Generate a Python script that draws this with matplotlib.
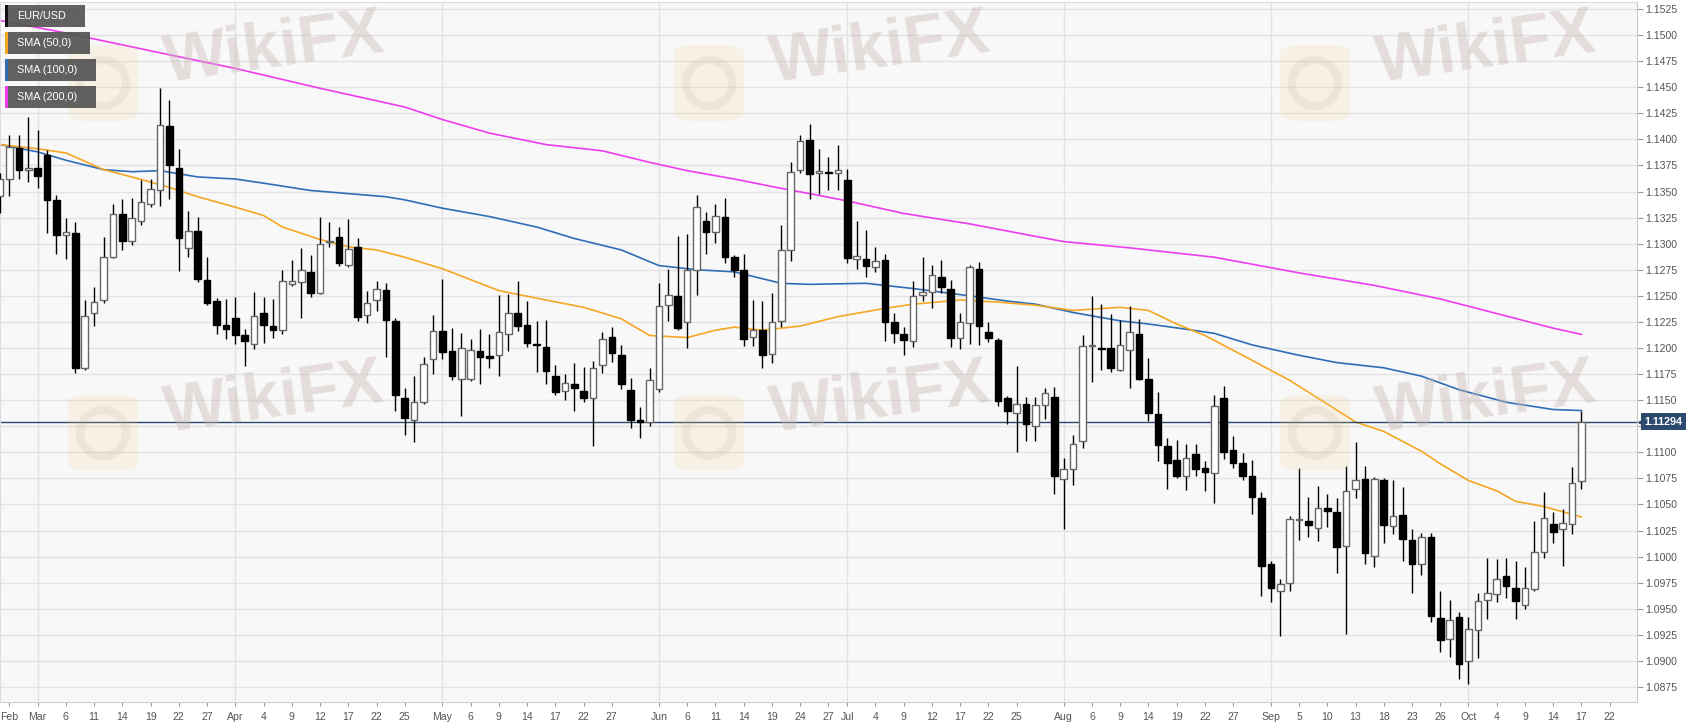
import numpy as np
import pandas as pd
import matplotlib
matplotlib.use('Agg')
import matplotlib.pyplot as plt
from matplotlib.patches import Rectangle, FancyBboxPatch, Ellipse
from matplotlib.transforms import blended_transform_factory

plt.rcParams['font.family'] = ['Liberation Sans', 'DejaVu Sans']

# ---------------- data (EUR/USD daily, 2019-02-25 .. 2019-10-17) ----------------
start_day = '2019-02-25'
opens = [1.1346, 1.1362, 1.1392, 1.1371, 1.1373, 1.1385, 1.1342, 1.1308, 1.1310, 1.1181,
         1.1234, 1.1246, 1.1287, 1.1328, 1.1303, 1.1322, 1.1338, 1.1351, 1.1413, 1.1373,
         1.1296, 1.1312, 1.1265, 1.1245, 1.1222, 1.1229, 1.1212, 1.1204, 1.1234, 1.1221,
         1.1217, 1.1261, 1.1263, 1.1273, 1.1253, 1.1302, 1.1306, 1.1280, 1.1297, 1.1232,
         1.1246, 1.1256, 1.1226, 1.1152, 1.1131, 1.1148, 1.1189, 1.1216, 1.1197, 1.1170,
         1.1170, 1.1197, 1.1192, 1.1193, 1.1213, 1.1234, 1.1222, 1.1204, 1.1201, 1.1173,
         1.1159, 1.1165, 1.1159, 1.1152, 1.1184, 1.1211, 1.1193, 1.1160, 1.1131, 1.1129,
         1.1161, 1.1241, 1.1250, 1.1225, 1.1275, 1.1322, 1.1311, 1.1326, 1.1287, 1.1275,
         1.1211, 1.1217, 1.1194, 1.1226, 1.1294, 1.1371, 1.1399, 1.1368, 1.1369, 1.1368,
         1.1361, 1.1285, 1.1285, 1.1278, 1.1284, 1.1225, 1.1213, 1.1207, 1.1251, 1.1254,
         1.1268, 1.1257, 1.1210, 1.1224, 1.1276, 1.1215, 1.1208, 1.1152, 1.1138, 1.1146,
         1.1125, 1.1145, 1.1153, 1.1074, 1.1084, 1.1111, 1.1202, 1.1200, 1.1200, 1.1179,
         1.1198, 1.1213, 1.1170, 1.1137, 1.1106, 1.1093, 1.1077, 1.1098, 1.1085, 1.1080,
         1.1152, 1.1102, 1.1090, 1.1077, 1.1056, 1.0993, 1.0967, 1.0975, 1.1035, 1.1034,
         1.1027, 1.1047, 1.1043, 1.1010, 1.1065, 1.1074, 1.1001, 1.1073, 1.1029, 1.1040,
         1.1016, 1.0993, 1.1019, 1.0941, 1.0921, 1.0942, 1.0900, 1.0930, 1.0958, 1.0964,
         1.0981, 1.0970, 1.0954, 1.0969, 1.1004, 1.1031, 1.1026, 1.1031, 1.1072]
highs = [1.1368, 1.1404, 1.1404, 1.1421, 1.1409, 1.1390, 1.1347, 1.1325, 1.1321, 1.1246,
         1.1258, 1.1306, 1.1338, 1.1343, 1.1344, 1.1361, 1.1362, 1.1449, 1.1438, 1.1391,
         1.1331, 1.1326, 1.1287, 1.1248, 1.1247, 1.1249, 1.1218, 1.1254, 1.1249, 1.1247,
         1.1275, 1.1284, 1.1296, 1.1289, 1.1326, 1.1321, 1.1316, 1.1324, 1.1305, 1.1255,
         1.1264, 1.1262, 1.1229, 1.1162, 1.1173, 1.1191, 1.1232, 1.1266, 1.1219, 1.1214,
         1.1209, 1.1218, 1.1213, 1.1251, 1.1252, 1.1264, 1.1245, 1.1226, 1.1227, 1.1184,
         1.1175, 1.1186, 1.1182, 1.1188, 1.1215, 1.1220, 1.1203, 1.1171, 1.1143, 1.1181,
         1.1262, 1.1276, 1.1307, 1.1309, 1.1347, 1.1330, 1.1338, 1.1344, 1.1289, 1.1290,
         1.1246, 1.1245, 1.1253, 1.1318, 1.1378, 1.1404, 1.1415, 1.1391, 1.1383, 1.1395,
         1.1372, 1.1322, 1.1313, 1.1297, 1.1290, 1.1234, 1.1220, 1.1264, 1.1287, 1.1280,
         1.1284, 1.1265, 1.1234, 1.1280, 1.1282, 1.1225, 1.1210, 1.1154, 1.1183, 1.1153,
         1.1153, 1.1162, 1.1163, 1.1095, 1.1117, 1.1212, 1.1250, 1.1242, 1.1233, 1.1227,
         1.1240, 1.1228, 1.1190, 1.1158, 1.1114, 1.1112, 1.1108, 1.1108, 1.1092, 1.1155,
         1.1164, 1.1116, 1.1099, 1.1093, 1.1062, 1.0996, 1.0979, 1.1039, 1.1085, 1.1057,
         1.1068, 1.1060, 1.1056, 1.1087, 1.1110, 1.1087, 1.1076, 1.1075, 1.1073, 1.1067,
         1.1026, 1.1023, 1.1023, 1.0967, 1.0958, 1.0947, 1.0942, 1.0965, 1.0999, 1.0998,
         1.0999, 1.0996, 1.0990, 1.1034, 1.1062, 1.1043, 1.1046, 1.1086, 1.1140]
lows = [1.1329, 1.1346, 1.1362, 1.1359, 1.1353, 1.1310, 1.1290, 1.1285, 1.1176, 1.1179,
        1.1221, 1.1243, 1.1286, 1.1294, 1.1299, 1.1318, 1.1335, 1.1336, 1.1343, 1.1274,
        1.1287, 1.1263, 1.1241, 1.1213, 1.1209, 1.1204, 1.1183, 1.1199, 1.1205, 1.1210,
        1.1213, 1.1259, 1.1229, 1.1249, 1.1252, 1.1297, 1.1279, 1.1278, 1.1226, 1.1224,
        1.1235, 1.1191, 1.1140, 1.1117, 1.1110, 1.1146, 1.1175, 1.1189, 1.1169, 1.1135,
        1.1168, 1.1165, 1.1181, 1.1173, 1.1197, 1.1216, 1.1201, 1.1177, 1.1165, 1.1155,
        1.1150, 1.1140, 1.1148, 1.1106, 1.1176, 1.1187, 1.1161, 1.1123, 1.1114, 1.1125,
        1.1158, 1.1226, 1.1217, 1.1200, 1.1251, 1.1290, 1.1301, 1.1281, 1.1268, 1.1202,
        1.1202, 1.1181, 1.1186, 1.1220, 1.1283, 1.1368, 1.1343, 1.1348, 1.1351, 1.1351,
        1.1281, 1.1276, 1.1268, 1.1273, 1.1207, 1.1205, 1.1193, 1.1201, 1.1245, 1.1238,
        1.1253, 1.1201, 1.1199, 1.1204, 1.1203, 1.1206, 1.1144, 1.1127, 1.1100, 1.1111,
        1.1111, 1.1132, 1.1060, 1.1026, 1.1069, 1.1104, 1.1167, 1.1179, 1.1177, 1.1178,
        1.1162, 1.1169, 1.1130, 1.1092, 1.1065, 1.1075, 1.1064, 1.1077, 1.1063, 1.1051,
        1.1094, 1.1085, 1.1073, 1.1041, 1.0962, 1.0956, 1.0924, 1.0967, 1.1016, 1.1019,
        1.1015, 1.1028, 1.0984, 1.0926, 1.1056, 1.0993, 1.0990, 1.1013, 1.1022, 1.0996,
        1.0965, 1.0982, 1.0937, 1.0909, 1.0904, 1.0883, 1.0878, 1.0903, 1.0940, 1.0956,
        1.0960, 1.0940, 1.0950, 1.0967, 1.0999, 1.1013, 1.0991, 1.1022, 1.1065]
closes = [1.1362, 1.1393, 1.1371, 1.1373, 1.1365, 1.1342, 1.1308, 1.1311, 1.1181, 1.1231,
          1.1244, 1.1287, 1.1328, 1.1303, 1.1325, 1.1340, 1.1352, 1.1414, 1.1375, 1.1305,
          1.1312, 1.1266, 1.1243, 1.1222, 1.1218, 1.1212, 1.1207, 1.1231, 1.1222, 1.1217,
          1.1264, 1.1264, 1.1275, 1.1253, 1.1300, 1.1303, 1.1281, 1.1295, 1.1230, 1.1243,
          1.1257, 1.1227, 1.1155, 1.1133, 1.1148, 1.1185, 1.1216, 1.1196, 1.1173, 1.1200,
          1.1198, 1.1191, 1.1190, 1.1215, 1.1234, 1.1221, 1.1205, 1.1203, 1.1178, 1.1158,
          1.1166, 1.1162, 1.1152, 1.1181, 1.1209, 1.1195, 1.1165, 1.1131, 1.1129, 1.1169,
          1.1240, 1.1251, 1.1219, 1.1275, 1.1335, 1.1311, 1.1327, 1.1287, 1.1275, 1.1209,
          1.1217, 1.1193, 1.1225, 1.1294, 1.1369, 1.1398, 1.1367, 1.1370, 1.1368, 1.1371,
          1.1286, 1.1288, 1.1279, 1.1283, 1.1225, 1.1214, 1.1208, 1.1250, 1.1254, 1.1270,
          1.1258, 1.1210, 1.1225, 1.1278, 1.1221, 1.1210, 1.1149, 1.1140, 1.1146, 1.1127,
          1.1145, 1.1157, 1.1077, 1.1084, 1.1108, 1.1202, 1.1203, 1.1199, 1.1181, 1.1203,
          1.1215, 1.1170, 1.1138, 1.1107, 1.1090, 1.1077, 1.1095, 1.1084, 1.1081, 1.1144,
          1.1100, 1.1090, 1.1077, 1.1057, 1.0991, 1.0970, 1.0974, 1.1036, 1.1036, 1.1030,
          1.1047, 1.1044, 1.1009, 1.1063, 1.1073, 1.1003, 1.1074, 1.1030, 1.1039, 1.1017,
          1.0993, 1.1019, 1.0943, 1.0920, 1.0939, 1.0897, 1.0931, 1.0957, 1.0965, 1.0979,
          1.0972, 1.0957, 1.0970, 1.1004, 1.1037, 1.1024, 1.1032, 1.1071, 1.1129]
last_price = 1.11294

# moving averages: trading-day offset from start_day -> value
sma50_days = [0, 4, 7, 11, 14, 18, 21, 25, 28, 30, 34, 37, 40, 43, 47, 53, 58, 62, 66, 69,
              73, 76, 78, 81, 85, 89, 94, 97, 102, 106, 110, 114, 119, 122, 125, 128, 132,
              137, 140, 144, 147, 151, 153, 156, 159, 161, 164, 166, 168]
sma50_vals = [1.1395, 1.1391, 1.1387, 1.1371, 1.1364, 1.1354, 1.1345, 1.1335, 1.1327, 1.1316,
              1.1304, 1.1297, 1.1294, 1.1287, 1.1276, 1.1255, 1.1246, 1.1239, 1.1228, 1.1212,
              1.1210, 1.1217, 1.1220, 1.1217, 1.1221, 1.1230, 1.1238, 1.1242, 1.1246, 1.1244,
              1.1241, 1.1236, 1.1239, 1.1236, 1.1223, 1.1212, 1.1193, 1.1169, 1.1152, 1.1129,
              1.1120, 1.1101, 1.1089, 1.1073, 1.1063, 1.1053, 1.1048, 1.1043, 1.1038]
sma100_days = [0, 4, 7, 11, 14, 17, 21, 25, 28, 33, 37, 41, 43, 47, 52, 57, 61, 66, 70, 74,
               78, 83, 86, 92, 97, 103, 107, 110, 114, 119, 122, 126, 129, 133, 138, 142, 147,
               151, 155, 160, 165, 168]
sma100_vals = [1.1395, 1.1388, 1.1380, 1.1371, 1.1369, 1.1370, 1.1364, 1.1362, 1.1358, 1.1351,
               1.1348, 1.1345, 1.1342, 1.1334, 1.1326, 1.1316, 1.1305, 1.1294, 1.1279, 1.1275,
               1.1273, 1.1262, 1.1261, 1.1262, 1.1257, 1.1250, 1.1245, 1.1242, 1.1234, 1.1226,
               1.1223, 1.1218, 1.1214, 1.1203, 1.1193, 1.1186, 1.1181, 1.1173, 1.1160, 1.1148,
               1.1141, 1.1140]
sma200_days = [0, 7, 17, 25, 34, 43, 47, 52, 58, 64, 69, 73, 78, 83, 86, 90, 96, 103, 110,
               113, 120, 129, 138, 146, 153, 159, 165, 168]
sma200_vals = [1.1514, 1.1502, 1.1483, 1.1468, 1.1449, 1.1431, 1.1419, 1.1406, 1.1395, 1.1389,
               1.1378, 1.1370, 1.1362, 1.1353, 1.1348, 1.1341, 1.1329, 1.1319, 1.1307, 1.1302,
               1.1296, 1.1287, 1.1272, 1.1260, 1.1247, 1.1233, 1.1219, 1.1213]

tick_dates = ['2019-02-26', '2019-03-01', '2019-03-06', '2019-03-11', '2019-03-14',
              '2019-03-19', '2019-03-22', '2019-03-27', '2019-04-01', '2019-04-04',
              '2019-04-09', '2019-04-12', '2019-04-17', '2019-04-22', '2019-04-25',
              '2019-05-01', '2019-05-06', '2019-05-09', '2019-05-14', '2019-05-17',
              '2019-05-22', '2019-05-27', '2019-06-03', '2019-06-06', '2019-06-11',
              '2019-06-14', '2019-06-19', '2019-06-24', '2019-06-27', '2019-07-01',
              '2019-07-04', '2019-07-09', '2019-07-12', '2019-07-17', '2019-07-22',
              '2019-07-25', '2019-08-01', '2019-08-06', '2019-08-09', '2019-08-14',
              '2019-08-19', '2019-08-22', '2019-08-27', '2019-09-02', '2019-09-05',
              '2019-09-10', '2019-09-13', '2019-09-18', '2019-09-23', '2019-09-26',
              '2019-10-01', '2019-10-04', '2019-10-09', '2019-10-14', '2019-10-17',
              '2019-10-22']

legend_items = ['EUR/USD', 'SMA (50,0)', 'SMA (100,0)', 'SMA (200,0)']
legend_colors = ['#111111', '#f5a623', '#2f6db5', '#ee3ded']
watermark = 'WikiFX'

# ---------------- figure ----------------
W, H = 1707, 728
fig = plt.figure(figsize=(W / 100, H / 100), dpi=100)
fig.patch.set_facecolor('white')
ax = fig.add_axes([0, 1 - 702 / H, 1637 / W, 700 / H])
ax.set_facecolor('#f8f8f8')

n = len(opens)
O = np.array(opens); Hh = np.array(highs); L = np.array(lows); C = np.array(closes)
x = np.arange(n)

all_days = pd.bdate_range(start_day, '2019-10-31')
day_pos = {d.strftime('%Y-%m-%d'): i for i, d in enumerate(all_days)}

# grid
yt = np.round(np.arange(1.0875, 1.15251, 0.0025), 4)
ax.set_yticks(yt)
ax.yaxis.grid(True, color='#e3e3e3', lw=1, zorder=0)
ax.set_axisbelow(True)

tick_pos = [day_pos[d] for d in tick_dates]
tick_lab = []
seen = set()
month_pos = []
for d in tick_dates:
    ts = pd.Timestamp(d)
    key = (ts.year, ts.month)
    if key not in seen:
        seen.add(key)
        tick_lab.append(ts.strftime('%b'))
        if ts.month != 2:
            month_pos.append(day_pos[d])
    else:
        tick_lab.append(str(ts.day))
for mp in month_pos:
    ax.axvline(mp, color='#e3e3e3', lw=1, zorder=0.5)

# moving averages
ax.plot(sma200_days, sma200_vals, color=legend_colors[3], lw=1.2, zorder=2)
ax.plot(sma100_days, sma100_vals, color=legend_colors[2], lw=1.2, zorder=2)
ax.plot(sma50_days, sma50_vals, color=legend_colors[1], lw=1.2, zorder=2)

# last price line
ax.axhline(last_price, color='#2b4a6b', lw=1, zorder=2.5)

# candles
up = C >= O
ax.vlines(x, L, Hh, color='black', lw=1, zorder=3)
bottom = np.minimum(O, C)
height = np.maximum(np.abs(C - O), 0.00008)
ax.bar(x[up], height[up], bottom=bottom[up], width=0.7, facecolor='white',
       edgecolor='#666666', linewidth=1, zorder=4)
ax.bar(x[~up], height[~up], bottom=bottom[~up], width=0.7, facecolor='black',
       edgecolor='black', linewidth=1, zorder=4)

ax.set_xlim(0.0, 173.9)
ax.set_ylim(1.08606, 1.15317)

# axes styling
ax.yaxis.tick_right()
ylabels = ['%.4f' % v for v in yt]
ylabels = ['' if abs(v - 1.1125) < 1e-6 else s for v, s in zip(yt, ylabels)]
ax.set_yticklabels(ylabels)
ax.tick_params(axis='y', direction='out', length=4, width=0.8, color='#9a9a9a',
               labelcolor='#555555', labelsize=7.6, pad=2)
ax.set_xticks(tick_pos)
ax.set_xticklabels(tick_lab)
ax.tick_params(axis='x', direction='out', length=3, width=0.8, color='#9a9a9a',
               labelcolor='#555555', labelsize=7.6, pad=4)
for s in ['top', 'left']:
    ax.spines[s].set_color('#dcdce6')
ax.spines['right'].set_color('#c8c8c8')
ax.spines['bottom'].set_color('#d0d0d0')

# last price label
trans = blended_transform_factory(ax.transAxes, ax.transData)
ax.text(1.0045, last_price, '%.5f' % last_price, transform=trans, ha='left', va='center',
        color='white', fontsize=7.8, fontweight='bold',
        bbox=dict(boxstyle='square,pad=0.32', fc='#2c4a6e', ec='none'), clip_on=False, zorder=6)
ax.plot([1.0022], [last_price], marker='<', ms=4.5, color='#2c4a6e', transform=trans,
        clip_on=False, zorder=6)

# legend boxes (top-left)
box_right = [85, 90, 96, 96]
for k, (lab, col) in enumerate(zip(legend_items, legend_colors)):
    y0 = 5 + k * 27
    y1 = y0 + 22
    fig.add_artist(Rectangle((5 / W, 1 - y1 / H), (box_right[k] - 5) / W, (y1 - y0) / H,
                             transform=fig.transFigure, fc='#555555', ec='none',
                             alpha=0.93, zorder=10))
    fig.add_artist(Rectangle((5 / W, 1 - y1 / H), 2.5 / W, (y1 - y0) / H,
                             transform=fig.transFigure, fc=col, ec='none', zorder=11))
    fig.text(17 / W, 1 - (y0 + y1) / 2 / H, lab, color='white', fontsize=7.8,
             ha='left', va='center', zorder=12)

# faint watermarks
for r in range(2):
    for c in range(3):
        cx = 103 + 606 * c
        cy = 83 + 350 * r
        fig.add_artist(FancyBboxPatch(((cx - 35) / W, 1 - (cy + 38) / H), 70 / W, 76 / H,
                                      boxstyle='round,pad=0,rounding_size=0.012',
                                      transform=fig.transFigure, fc='#f5cd82', ec='none',
                                      alpha=0.16, zorder=5))
        fig.add_artist(Ellipse((cx / W, 1 - cy / H), 46 / W, 46 / H,
                               transform=fig.transFigure, fc='none', ec='#b8aaa6',
                               lw=6, alpha=0.16, zorder=5))
        fig.text((160 + 606 * c) / W, 1 - (50 + 350 * r) / H, watermark, fontsize=48,
                 fontweight='bold', color='#c8b9b6', alpha=0.42, rotation=8,
                 ha='left', va='center', zorder=5)

fig.savefig('out.png', dpi=100, facecolor='white')
